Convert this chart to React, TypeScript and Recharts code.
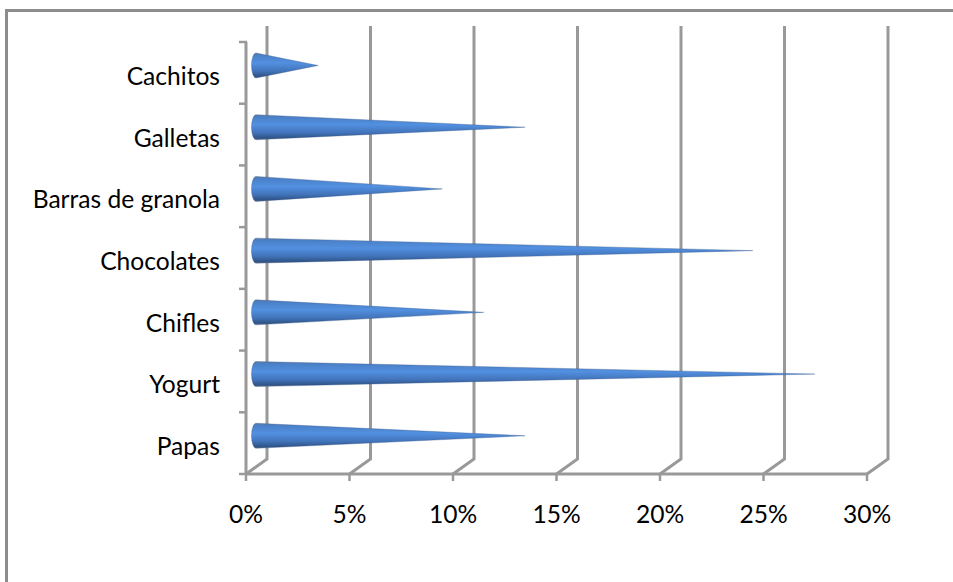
import React from 'react';
import { BarChart, Bar, CartesianGrid, XAxis, YAxis } from 'recharts';

const categories = ['Papas', 'Yogurt', 'Chifles', 'Chocolates', 'Barras de granola', 'Galletas', 'Cachitos'];
const shares = [13, 27, 11, 24, 9, 13, 3];
const percentTicks = [0, 5, 10, 15, 20, 25, 30];

const data = categories.map((name, i) => ({ name, share: shares[i] }));

const WIDTH = 953;
const HEIGHT = 582;
const TOP = 42;
const BOTTOM = 474;
const BAND = (BOTTOM - TOP) / categories.length;
// the fake 3D floor: how far the back wall sits from the front axes
const DEPTH_X = 21;
const DEPTH_Y = 15;
const AXIS_COLOR = '#999999';
const FONT = 'Lato, sans-serif';
const FONT_SIZE = 24.6;

function WallLine({ x1, y1, y2 }: any) {
  const bottom = Math.max(y1, y2);
  const top = Math.min(y1, y2);
  return (
    <polyline
      points={`${x1},${bottom} ${x1 + DEPTH_X},${bottom - DEPTH_Y} ${x1 + DEPTH_X},${top - DEPTH_Y - 1}`}
      fill="none"
      stroke={AXIS_COLOR}
      strokeWidth={3}
    />
  );
}

function Cone({ x, y, width, height }: any) {
  const r = height / 2;
  const cy = y + r - 7;
  const baseX = x + 10;
  const tipX = baseX + width;
  return (
    <path
      d={`M${baseX},${cy - r} A4.5,${r} 0 0 0 ${baseX},${cy + r} L${tipX},${cy} Z`}
      fill="url(#coneFill)"
      stroke="#3c5a88"
      strokeOpacity={0.45}
      strokeWidth={0.8}
    />
  );
}

function CategoryTick({ x, y, payload, index }: any) {
  return (
    <g>
      <line x1={x + 1} x2={x + 9} y1={y - BAND / 2} y2={y - BAND / 2} stroke={AXIS_COLOR} strokeWidth={2.5} />
      {index === 0 && (
        <line x1={x + 1} x2={x + 9} y1={y + BAND / 2} y2={y + BAND / 2} stroke={AXIS_COLOR} strokeWidth={2.5} />
      )}
      <text x={220} y={y + 12} textAnchor="end" fontFamily={FONT} fontSize={FONT_SIZE} fill="#000">
        {payload.value}
      </text>
    </g>
  );
}

export default function App() {
  return (
    <div style={{ position: 'absolute', left: 0, top: 0, width: WIDTH, height: HEIGHT, overflow: 'hidden', background: '#fff' }}>
      <div style={{ position: 'absolute', left: 5, top: 9, right: 0, bottom: 0, borderLeft: '3px solid #8c8c8c', borderTop: '3px solid #8c8c8c' }} />
      <BarChart
        width={WIDTH}
        height={HEIGHT}
        data={data}
        layout="vertical"
        margin={{ top: TOP, right: 86, bottom: 78, left: 0 }}
        style={{ position: 'absolute', left: 0, top: 0 }}
      >
        <defs>
          <linearGradient id="coneFill" x1="0" y1="0" x2="0" y2="1">
            <stop offset="0" stopColor="#5f7aa0" />
            <stop offset="0.08" stopColor="#4a7fc6" />
            <stop offset="0.4" stopColor="#5290e0" />
            <stop offset="0.72" stopColor="#4274ba" />
            <stop offset="0.93" stopColor="#2f5488" />
            <stop offset="1" stopColor="#55688a" />
          </linearGradient>
        </defs>
        <CartesianGrid horizontal={false} vertical={(props: any) => <WallLine key={props.key} {...props} />} />
        <XAxis
          type="number"
          dataKey="share"
          domain={[0, 30]}
          ticks={percentTicks}
          tickFormatter={(v: number) => `${v}%`}
          height={30}
          stroke={AXIS_COLOR}
          tickLine={{ stroke: AXIS_COLOR, strokeWidth: 2.5 }}
          axisLine={{ stroke: AXIS_COLOR, strokeWidth: 3 }}
          tickSize={7}
          tickMargin={25}
          interval={0}
          tick={{ fill: '#000', fontFamily: FONT, fontSize: FONT_SIZE }}
        />
        <YAxis
          type="category"
          dataKey="name"
          reversed
          width={246}
          interval={0}
          tickLine={false}
          axisLine={{ stroke: AXIS_COLOR, strokeWidth: 3 }}
          tick={<CategoryTick />}
        />
        <Bar dataKey="share" barSize={25} shape={<Cone />} isAnimationActive={false} />
      </BarChart>
    </div>
  );
}
